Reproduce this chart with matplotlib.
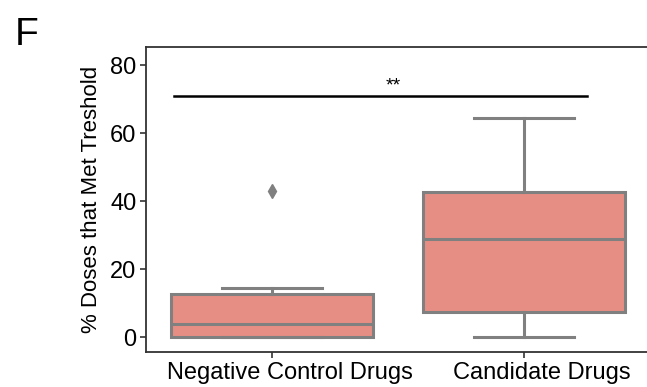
import matplotlib
matplotlib.use("Agg")
import matplotlib.pyplot as plt
import matplotlib.transforms as mtransforms

plt.rcParams['font.family'] = ['Liberation Sans', 'DejaVu Sans']

categories = ["Negative Control Drugs", "Candidate Drugs"]
q1 = [0.0, 7.4]
median = [3.7, 28.7]
q3 = [12.6, 42.7]
whisker_low = [0.0, 0.0]
whisker_high = [14.3, 64.3]
outliers = [[43.0], []]
sig_x = [-0.39, 1.25]
sig_y = 70.9
sig_label = "**"
sig_label_x = 0.48
yticks = [0, 20, 40, 60, 80]

fig = plt.figure(figsize=(6.47, 3.87), dpi=100)
ax = fig.add_axes([146/647, 35/387, 504/647, 305/387])

gray = '#808080'
face = '#E78E84'
stats = []
for i, c in enumerate(categories):
    stats.append(dict(label=c, q1=q1[i], med=median[i], q3=q3[i],
                      whislo=whisker_low[i], whishi=whisker_high[i], fliers=outliers[i]))
ax.bxp(stats, positions=range(len(categories)), widths=0.8, patch_artist=True,
       boxprops=dict(facecolor=face, edgecolor=gray, linewidth=2.2),
       medianprops=dict(color=gray, linewidth=2.2),
       whiskerprops=dict(color=gray, linewidth=2.2),
       capprops=dict(color=gray, linewidth=2.2),
       flierprops=dict(marker='d', markerfacecolor=gray, markeredgecolor=gray, markersize=7),
       capwidths=0.4)

ax.plot(sig_x, [sig_y, sig_y], color='black', linewidth=1.8)
ax.text(sig_label_x, sig_y + 0.3, sig_label, ha='center', va='bottom', fontsize=14)

ax.set_xlim(-0.5, 1.5)
ax.set_ylim(-4.4, 85.3)
ax.set_yticks(yticks)
ax.set_xticks(range(len(categories)))
ax.set_xticklabels(categories)
ax.tick_params(axis='both', labelsize=17, length=4, width=1.2, color='#333333', pad=3)
offset = mtransforms.ScaledTranslation(18/100, 0, fig.dpi_scale_trans)
for lbl in ax.get_xticklabels():
    lbl.set_transform(lbl.get_transform() + offset)
ax.set_ylabel("% Doses that Met Treshold", fontsize=16, labelpad=6)
for s in ax.spines.values():
    s.set_linewidth(1.3)
    s.set_color('#333333')

fig.text(15/647, 1 - 45/387, "F", fontsize=28, ha='left', va='baseline')

fig.savefig("out.png", dpi=100)
